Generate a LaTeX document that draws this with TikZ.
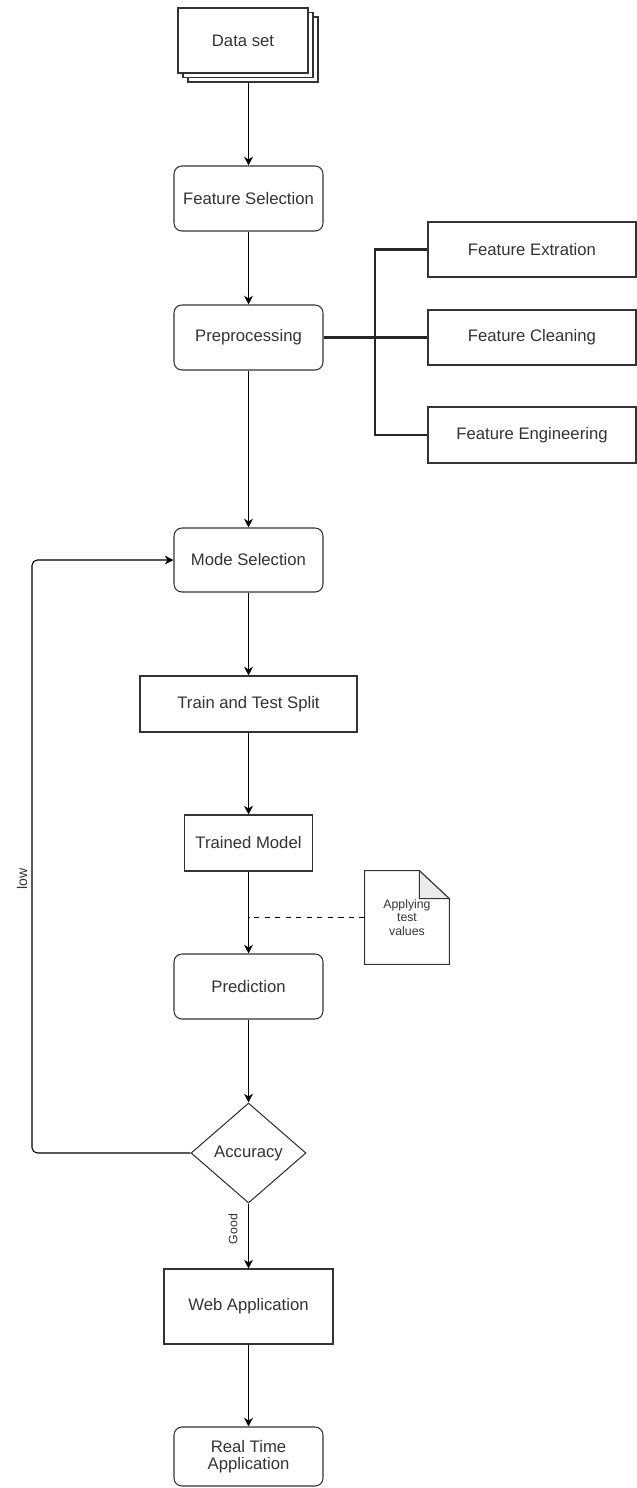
\documentclass[tikz,border=0pt]{standalone}
\usepackage{fontspec}
\setmainfont{Liberation Sans}
\usetikzlibrary{shapes.geometric,arrows.meta}
\definecolor{txt}{HTML}{333333}
\begin{document}
\begin{tikzpicture}[x=0.02cm,y=-0.02cm]
	\tikzset{blk/.style={draw=black!80, line width=0.6pt, text=txt, fill=white, align=center, inner sep=0pt, font=\fontsize{9.5}{10}\selectfont}};
	\tikzset{rnd/.style={blk, rounded corners=4.5pt, minimum width=2.98cm, minimum height=1.3cm}};
	\tikzset{lbl/.style={text=txt, inner sep=0pt, font=\fontsize{7}{7.5}\selectfont, align=center}};
	\tikzset{arr/.style={-{Stealth[length=5pt,width=5pt]}, line width=0.6pt}};
	\tikzset{bar/.style={line width=1.2pt, draw=black!85}};

	\useasboundingbox (0,0) rectangle (636,1488);

	\node[blk, minimum width=2.6cm, minimum height=1.3cm] (ds3) at (253,49.5) {};
	\node[blk, minimum width=2.6cm, minimum height=1.3cm] (ds2) at (248,45) {};
	\node[blk, minimum width=2.6cm, minimum height=1.3cm] (ds) at (243,40.5) {Data set};
	\node[rnd] (fs) at (248.5,198.5) {Feature Selection};
	\node[rnd] (pp) at (248.5,337.5) {Preprocessing};
	\node[blk, minimum width=4.16cm, minimum height=1.1cm] (fx) at (532,249.5) {Feature Extration};
	\node[blk, minimum width=4.16cm, minimum height=1.1cm] (fc) at (532,337.5) {Feature Cleaning};
	\node[blk, minimum width=4.16cm, minimum height=1.12cm] (fe) at (532,435) {Feature Engineering};
	\node[rnd, minimum height=1.28cm] (ms) at (248.5,560) {Mode Selection};
	\node[blk, minimum width=4.34cm, minimum height=1.12cm] (tts) at (248.5,704) {Train and Test Split};
	\node[blk, minimum width=2.56cm, minimum height=1.12cm] (tm) at (248.5,843) {Trained Model};
	\node[lbl, minimum width=1.68cm, minimum height=1.86cm] (nt) at (407,917.5) {Applying\\test\\values};
	\node[rnd] (pr) at (248.5,986.5) {Prediction};
	\node[blk, diamond, aspect=1.15, minimum width=2.3cm, minimum height=2cm] (acc) at (248.5,1153) {Accuracy};
	\node[blk, minimum width=3.38cm, minimum height=1.5cm] (wa) at (248.5,1306.5) {Web Application};
	\node[rnd, minimum height=1.18cm] (rta) at (248.5,1456.5) {Real Time\\Application};

	\node[lbl, rotate=90, font=\fontsize{8}{8}\selectfont] (low) at (22,879) {low};
	\node[lbl, rotate=90] (good) at (233,1229) {Good};
	\coordinate (br) at (375,337.5);
	\coordinate (lw) at (32,1153);

	% note sheet
	\draw[line width=0.6pt, draw=black!80] (nt.north west) -- ([xshift=-0.6cm]nt.north east) -- ([yshift=-0.56cm]nt.north east) -- (nt.south east) -- (nt.south west) -- cycle;
	\draw[line width=0.6pt, draw=black!80, fill=black!8] ([xshift=-0.6cm]nt.north east) -- ([xshift=-0.6cm,yshift=-0.56cm]nt.north east) -- ([yshift=-0.56cm]nt.north east) -- cycle;

	\draw[arr] (ds3.south -| fs.north) -- (fs);
	\draw[arr] (fs) -- (pp);
	\draw[arr] (pp) -- (ms);
	\draw[arr] (ms) -- (tts);
	\draw[arr] (tts) -- (tm);
	\draw[arr] (tm) -- (pr);
	\draw[arr] (pr) -- (acc);
	\draw[arr] (acc) -- (wa);
	\draw[arr] (wa) -- (rta);

	\draw[bar] (pp.east) -- (fc.west);
	\draw[bar] (fx.west) -| (br) |- (fe.west);

	\draw[dashed, line width=0.5pt] (nt.west) -- (nt.west -| tm.south);

	\draw[arr, rounded corners=3pt] (acc.west) -- (lw) |- (ms.west);

\end{tikzpicture}
\end{document}
